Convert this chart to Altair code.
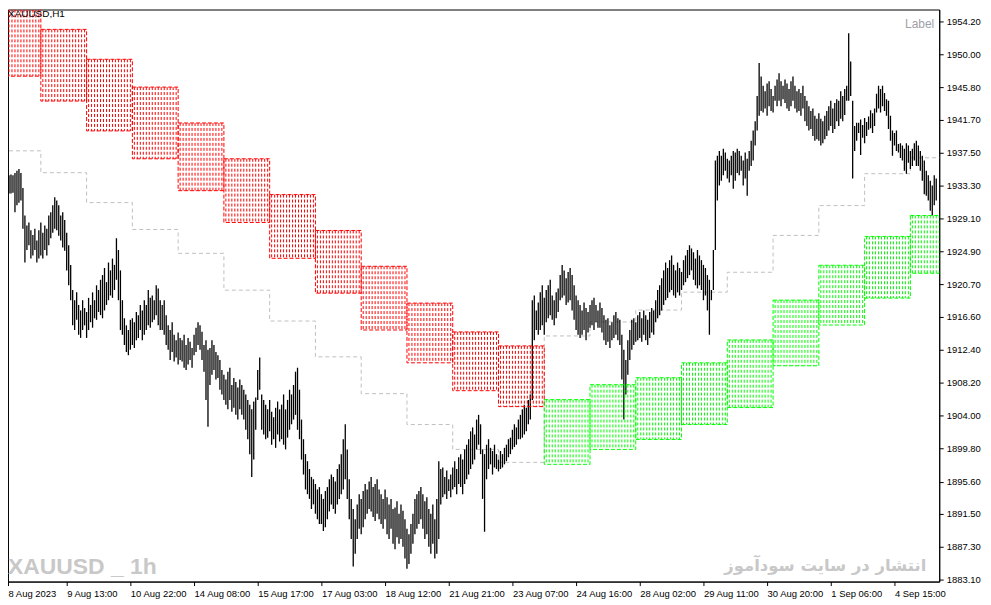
import altair as alt
import pandas as pd

# ---- OHLC bars (H1) : highs / lows ----
highs = [
1935.6,1935.1,1935.1,1934.6,1934.7,1934.6,1934.9,1935.2,1935.4,1934.9,
1933.0,1929.5,1928.2,1928.6,1927.6,1927.0,1927.8,1926.3,1927.6,1928.6,
1927.3,1928.2,1927.8,1929.5,1929.9,1930.8,1931.8,1931.4,1930.8,1929.5,
1929.9,1928.9,1927.3,1925.7,1923.2,1920.0,1918.7,1919.7,1918.1,1917.4,
1918.7,1917.7,1917.2,1919.0,1918.1,1919.7,1918.7,1920.6,1920.0,1921.3,
1921.9,1922.8,1921.0,1923.5,1922.5,1924.0,1923.2,1926.6,1925.1,1922.5,
1918.7,1916.4,1915.5,1914.9,1916.2,1916.4,1915.9,1917.2,1916.8,1918.1,
1917.4,1918.7,1918.1,1920.0,1919.0,1919.3,1918.7,1920.6,1920.2,1918.7,
1918.1,1918.7,1916.8,1915.5,1914.9,1915.9,1914.3,1913.6,1914.6,1913.9,
1913.6,1914.3,1913.0,1913.9,1913.4,1912.6,1914.3,1915.2,1915.9,1915.5,
1914.7,1913.0,1913.6,1912.4,1912.6,1913.6,1913.0,1912.1,1911.7,1911.1,
1909.8,1909.2,1908.6,1909.6,1910.1,1907.9,1908.8,1908.3,1907.6,1908.6,
1907.9,1907.3,1906.7,1906.0,1905.4,1904.8,1905.8,1906.3,1909.8,1911.4,
1906.7,1906.0,1905.4,1904.8,1906.0,1904.5,1903.8,1905.0,1905.8,1904.8,
1905.4,1906.7,1904.8,1906.0,1907.3,1906.7,1907.9,1909.6,1910.1,1907.3,
1903.5,1901.0,1899.1,1898.2,1897.2,1896.2,1895.9,1895.3,1894.6,1894.9,
1894.0,1893.4,1894.4,1894.9,1895.9,1896.5,1896.2,1895.6,1897.2,1897.8,
1899.1,1901.0,1902.9,1899.7,1895.9,1893.4,1892.1,1890.8,1892.7,1894.0,
1893.4,1894.4,1895.3,1894.6,1895.6,1896.2,1894.9,1895.3,1895.9,1894.6,
1894.0,1893.4,1894.6,1893.6,1892.7,1893.4,1892.1,1892.3,1893.1,1891.5,
1892.7,1891.9,1890.8,1889.6,1888.9,1890.2,1891.5,1893.4,1894.0,1894.4,
1894.9,1894.0,1893.1,1893.6,1892.1,1891.5,1892.7,1890.8,1893.4,1898.2,
1897.2,1897.4,1896.2,1897.0,1895.9,1896.5,1897.4,1898.2,1897.2,1898.7,
1899.1,1898.4,1899.7,1900.3,1901.0,1902.0,1902.5,1901.6,1903.5,1904.1,
1902.9,1899.7,1899.1,1900.3,1901.0,1899.9,1899.5,1900.3,1899.1,1898.4,
1899.5,1899.1,1899.9,1900.3,1901.0,1901.2,1902.2,1902.9,1902.5,1903.5,
1904.1,1904.8,1905.4,1905.0,1906.0,1906.7,1918.7,1919.3,1917.4,1918.4,
1919.7,1920.6,1919.0,1920.0,1920.6,1921.3,1919.3,1918.7,1919.7,1920.2,
1921.9,1923.2,1922.5,1921.5,1922.3,1922.8,1921.9,1920.6,1919.3,1918.7,
1918.1,1917.4,1918.4,1917.7,1917.2,1918.1,1918.7,1919.0,1918.1,1917.4,
1918.4,1917.7,1916.8,1916.2,1916.4,1915.5,1915.9,1916.8,1917.2,1916.4,
1916.2,1914.3,1912.4,1911.1,1913.6,1914.9,1916.2,1916.4,1915.9,1916.8,
1917.2,1916.4,1917.4,1916.8,1916.2,1917.2,1917.7,1917.4,1918.7,1920.0,
1920.6,1921.5,1922.5,1923.5,1922.8,1923.8,1924.4,1923.2,1922.5,1923.5,
1922.8,1922.3,1923.8,1924.4,1925.1,1925.7,1925.3,1924.8,1924.0,1925.1,
1924.4,1923.8,1923.2,1922.8,1921.9,1921.3,1920.0,1925.1,1936.5,1937.1,
1937.7,1937.1,1938.0,1937.5,1936.7,1936.5,1937.1,1937.7,1937.5,1938.0,
1937.7,1937.1,1936.5,1937.5,1936.7,1937.7,1939.0,1940.3,1941.5,1944.7,
1948.9,1947.2,1946.0,1945.3,1946.3,1946.6,1945.6,1944.7,1946.0,1946.8,
1947.6,1946.6,1946.0,1946.8,1946.3,1945.6,1946.6,1947.2,1946.0,1945.3,
1945.6,1945.1,1946.0,1944.7,1944.1,1943.4,1942.8,1943.1,1942.2,1941.8,
1942.5,1941.8,1941.5,1942.2,1942.8,1943.4,1944.1,1943.1,1943.8,1944.3,
1944.1,1945.3,1944.7,1945.6,1946.0,1952.7,1949.1,1944.1,1940.9,1941.3,
1941.3,1941.7,1941.0,1941.9,1941.4,1942.1,1942.9,1942.5,1943.1,1945.0,
1946.0,1945.6,1946.0,1945.1,1944.3,1944.1,1942.2,1940.3,1940.0,1940.3,
1938.6,1938.7,1938.4,1938.0,1938.7,1938.4,1937.7,1938.0,1938.7,1939.0,
1938.4,1937.7,1937.1,1936.5,1935.2,1934.6,1933.9,1933.3,1934.6,1934.2,
]
lows = [
1931.4,1930.8,1932.7,1932.3,1932.3,1932.4,1929.9,1930.8,1931.1,1931.4,
1927.8,1923.5,1925.1,1925.7,1924.0,1924.4,1925.1,1923.5,1924.0,1924.4,
1924.0,1925.1,1924.4,1925.7,1926.6,1927.3,1927.8,1927.6,1926.9,1926.3,
1925.4,1925.0,1922.5,1920.6,1918.7,1915.5,1914.9,1916.2,1914.3,1913.9,
1914.9,1915.5,1913.9,1914.9,1915.9,1915.2,1916.4,1916.2,1917.2,1916.8,
1916.4,1917.4,1918.1,1918.7,1919.3,1919.0,1920.0,1921.3,1918.7,1914.9,
1914.3,1913.0,1912.1,1911.7,1912.4,1913.0,1912.6,1913.6,1913.9,1914.9,
1913.6,1914.3,1914.9,1915.5,1915.2,1915.9,1916.2,1916.8,1915.5,1914.9,
1914.9,1914.3,1913.0,1912.4,1911.1,1912.1,1910.9,1911.4,1910.5,1911.1,
1910.9,1910.1,1909.8,1910.5,1911.1,1910.1,1911.7,1912.1,1913.0,1912.4,
1911.1,1909.6,1906.0,1902.6,1907.9,1909.2,1909.8,1908.6,1908.8,1907.3,
1906.7,1906.0,1905.4,1904.8,1906.0,1904.5,1905.0,1904.1,1903.5,1904.8,
1904.1,1903.5,1902.2,1901.0,1899.1,1896.2,1898.4,1902.2,1906.0,1907.3,
1902.2,1901.6,1901.0,1901.2,1902.0,1900.3,1901.0,1899.9,1901.6,1900.7,
1901.0,1900.3,1899.7,1901.2,1902.2,1902.9,1903.5,1904.1,1902.2,1901.0,
1898.4,1896.5,1894.6,1894.0,1893.4,1892.1,1892.7,1891.5,1890.8,1890.2,
1890.2,1889.3,1889.8,1890.8,1891.8,1892.7,1892.1,1891.5,1892.7,1893.4,
1894.0,1894.6,1895.9,1893.4,1890.8,1888.3,1884.8,1886.4,1888.3,1889.6,
1888.9,1889.8,1890.8,1891.5,1892.1,1891.8,1891.1,1890.6,1891.5,1890.8,
1890.2,1889.6,1890.8,1888.9,1888.3,1889.6,1887.7,1887.0,1888.5,1887.7,
1888.3,1887.3,1885.8,1884.5,1885.1,1886.4,1887.7,1888.9,1889.6,1890.2,
1890.8,1889.6,1888.3,1888.9,1887.3,1886.4,1887.7,1885.8,1886.4,1888.3,
1892.7,1893.6,1894.0,1893.4,1894.4,1893.6,1894.6,1894.9,1894.0,1895.3,
1894.9,1894.0,1895.3,1895.9,1896.5,1897.2,1897.8,1898.4,1899.7,1900.3,
1899.1,1893.4,1889.2,1895.9,1897.2,1897.8,1896.5,1897.4,1897.2,1896.9,
1897.2,1897.4,1897.8,1898.2,1898.7,1899.1,1899.7,1900.0,1900.3,1901.0,
1901.0,1901.2,1901.6,1902.0,1902.9,1903.5,1906.0,1913.6,1914.9,1914.3,
1914.9,1915.5,1914.3,1915.9,1916.4,1916.8,1916.2,1915.5,1916.4,1917.2,
1918.7,1919.0,1919.3,1918.1,1918.4,1918.7,1917.4,1916.2,1914.9,1914.3,
1913.9,1914.3,1914.9,1913.6,1914.6,1915.2,1915.5,1914.9,1915.9,1915.2,
1915.2,1914.6,1913.6,1913.0,1913.4,1912.6,1913.6,1913.9,1914.3,1913.6,
1913.0,1908.6,1903.5,1906.7,1909.2,1911.1,1912.4,1913.0,1913.4,1913.6,
1913.9,1913.4,1914.3,1913.6,1913.0,1913.9,1914.6,1914.3,1915.9,1916.4,
1916.8,1917.4,1918.1,1918.7,1919.0,1919.7,1920.0,1919.3,1919.0,1919.7,
1919.3,1920.0,1920.6,1921.0,1921.5,1921.9,1922.5,1921.3,1920.6,1920.2,
1920.6,1920.0,1918.7,1919.3,1917.4,1914.3,1918.7,1920.0,1925.1,1931.4,
1933.3,1933.9,1934.6,1935.2,1934.2,1933.7,1934.6,1932.9,1933.9,1934.9,
1934.6,1935.2,1933.3,1934.2,1932.0,1935.2,1935.8,1936.5,1938.4,1940.3,
1942.2,1942.8,1942.6,1943.1,1942.2,1943.4,1942.8,1942.6,1944.1,1943.4,
1944.1,1943.4,1944.3,1943.8,1943.1,1942.8,1943.4,1944.1,1943.1,1942.6,
1942.8,1942.2,1943.1,1941.5,1940.9,1940.3,1940.5,1939.6,1939.0,1939.2,
1939.0,1938.4,1938.7,1939.2,1939.6,1940.3,1940.9,1940.0,1940.5,1941.5,
1940.9,1941.8,1941.5,1942.3,1944.1,1944.1,1944.7,1934.2,1937.7,1939.0,
1940.0,1937.2,1939.4,1938.7,1939.6,1940.4,1940.6,1940.0,1940.9,1942.6,
1943.1,1942.6,1943.4,1942.8,1942.2,1940.5,1939.0,1937.1,1938.4,1937.7,
1937.5,1936.8,1936.5,1935.2,1934.8,1936.2,1935.4,1935.8,1936.5,1935.8,
1935.8,1935.2,1933.9,1932.2,1932.0,1931.4,1930.1,1929.5,1930.8,1931.4,
]

# ---- step channel boxes (bar index start/end, price top/bottom) ----
box_starts = [-4, 19, 42, 65, 88, 111, 134, 157, 180, 203, 226, 249,
              272, 295, 318, 341, 364, 387, 410, 433, 456]
box_ends = box_starts[1:] + [479]
box_tops = [1956.35, 1953.19, 1949.38, 1945.84, 1941.27, 1936.71, 1932.15, 1927.58,
            1923.02, 1918.33, 1914.66, 1912.88,
            1906.04, 1907.94, 1908.83, 1910.73, 1913.64, 1918.71, 1923.15, 1926.82, 1929.49]
box_bottoms = [1947.23, 1944.06, 1940.26, 1936.71, 1932.65, 1928.60, 1924.04, 1919.60,
               1914.91, 1910.73, 1907.18, 1905.15,
               1897.80, 1899.70, 1900.97, 1902.87, 1905.03, 1910.35, 1915.54, 1918.97, 1922.13]
box_kind = ["down"] * 12 + ["up"] * 9
mid_levels = [1937.72, 1934.94, 1931.13, 1927.71, 1924.67, 1919.98, 1916.05, 1911.49,
              1906.80, 1902.87, 1899.70, 1898.05,
              1914.15, 1915.93, 1917.45, 1919.73, 1922.26, 1926.95, 1930.75, 1934.81, 1936.84]

# ---- axis labels ----
y_ticks = [1954.20, 1950.00, 1945.80, 1941.70, 1937.50, 1933.30, 1929.10, 1924.90, 1920.70,
           1916.60, 1912.40, 1908.20, 1904.00, 1899.80, 1895.60, 1891.50, 1887.30, 1883.10]
x_labels = ["8 Aug 2023", "9 Aug 13:00", "10 Aug 22:00", "14 Aug 08:00", "15 Aug 17:00",
            "17 Aug 03:00", "18 Aug 12:00", "21 Aug 21:00", "23 Aug 07:00", "24 Aug 16:00",
            "28 Aug 02:00", "29 Aug 11:00", "30 Aug 20:00", "1 Sep 06:00", "4 Sep 15:00"]
bars_per_label = 32

# ---------------- tables ----------------
bars = pd.DataFrame({"i": list(range(len(highs))), "high": highs, "low": lows})
boxes = pd.DataFrame({"s": box_starts, "e": box_ends, "top": box_tops,
                      "bottom": box_bottoms, "kind": box_kind})
hatch_rows = []
for s, e, t, b, k in zip(box_starts, box_ends, box_tops, box_bottoms, box_kind):
    x = s + 1.0
    while x < e:
        hatch_rows.append({"x": x, "top": t, "bottom": b, "kind": k})
        x += 1.5
hatch = pd.DataFrame(hatch_rows)
mid = pd.DataFrame({"x": box_starts + [box_ends[-1]], "lvl": mid_levels + [mid_levels[-1]]})

x0 = 2.5
xscale = alt.Scale(domain=[x0, x0 + 468], nice=False, zero=False)
yscale = alt.Scale(domain=[1882.87, 1955.72], nice=False, zero=False)

x_vals = [x0 + 0.01] + [bars_per_label * k for k in range(1, len(x_labels))]
label_expr = "[" + ",".join("'%s'" % s for s in x_labels) + "][round(datum.value/%d)]" % bars_per_label

FONT = "Liberation Sans"
xaxis = alt.Axis(orient="bottom", values=x_vals, labelExpr=label_expr, title=None, grid=False,
                 labelAlign="left", labelBaseline="top", labelPadding=3, tickSize=4,
                 labelFont=FONT, labelFontSize=9.5, labelColor="black", tickColor="black",
                 domainColor="black", labelOverlap=False, labelBound=False, labelFlush=False)
yaxis = alt.Axis(orient="right", values=y_ticks, format=".2f", title=None, grid=False,
                 labelAlign="left", labelBaseline="middle", labelPadding=3, tickSize=4,
                 labelFont=FONT, labelFontSize=9.5, labelColor="black", tickColor="black",
                 domainColor="black", labelOverlap=False, labelBound=False, labelFlush=False)

color_scale = alt.Scale(domain=["down", "up"], range=["#ff0000", "#00ff00"])

mid_line = alt.Chart(mid).mark_line(
    interpolate="step-after", color="#c0c0c0", strokeDash=[4, 3], strokeWidth=1, clip=True
).encode(x=alt.X("x:Q", scale=xscale, axis=xaxis), y=alt.Y("lvl:Q", scale=yscale, axis=yaxis))

bar_layer = alt.Chart(bars).mark_rule(color="black", strokeWidth=1.3, clip=True).encode(
    x=alt.X("i:Q", scale=xscale, axis=xaxis),
    y=alt.Y("low:Q", scale=yscale, axis=yaxis),
    y2="high:Q",
)

hatch_layer = alt.Chart(hatch).mark_rule(strokeWidth=1, strokeDash=[3, 2], clip=True).encode(
    x=alt.X("x:Q", scale=xscale, axis=xaxis),
    y=alt.Y("top:Q", scale=yscale, axis=yaxis),
    y2="bottom:Q",
    color=alt.Color("kind:N", scale=color_scale, legend=None),
)

box_layer = alt.Chart(boxes).mark_rect(
    fillOpacity=0, strokeWidth=1, strokeDash=[4, 2], clip=True
).encode(
    x=alt.X("s:Q", scale=xscale, axis=xaxis), x2="e:Q",
    y=alt.Y("top:Q", scale=yscale, axis=yaxis), y2="bottom:Q",
    stroke=alt.Stroke("kind:N", scale=color_scale, legend=None),
)

def txt(text, x, y, **kw):
    return alt.Chart(pd.DataFrame({"t": [text]})).mark_text(**kw).encode(
        x=alt.value(x), y=alt.value(y), text="t:N")

t_sym = txt("XAUUSD,H1", 0, 8, align="left", baseline="alphabetic", font=FONT,
            fontSize=10, color="#000000")
t_label = txt("Label", 931, 19, align="right", baseline="alphabetic", font=FONT,
              fontSize=12, color="#9f9fa8")
t_wm = txt("XAUUSD _ 1h", 0, 567, align="left", baseline="alphabetic",
           font="Liberation Sans", fontWeight="bold", fontSize=23, color="#c8c8c8")
t_fa = txt("انتشار در سایت سودآموز", 923, 564, align="right", baseline="alphabetic",
           font="DejaVu Sans", fontWeight="bold", fontSize=16.5, color="#c8c8c8")

chart = alt.layer(mid_line, bar_layer, hatch_layer, box_layer, t_sym, t_label, t_wm, t_fa).properties(
    width=936, height=575,
    autosize=alt.AutoSizeParams(type="none"),
    padding={"left": 0, "top": 0, "right": 44, "bottom": 17},
    background="white",
).configure_view(stroke="black", strokeWidth=1)

chart.save("out.html", embed_options={"renderer": "svg", "actions": False})
